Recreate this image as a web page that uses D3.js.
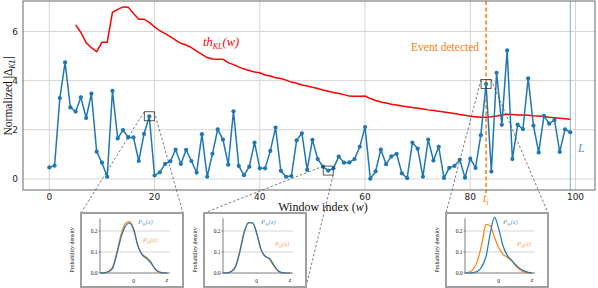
<!DOCTYPE html>
<meta charset="utf-8">
<script src="https://cdn.jsdelivr.net/npm/d3@7"></script>
<style>
  body { margin: 0; background: #fff; }
</style>
<body>
<script>

// normalized KL divergence per window (w = 0..99)
var deltaKL = [0.47, 0.54, 3.29, 4.74, 2.91, 2.74, 3.32, 2.48, 3.47, 1.11,
               0.66, 0.09, 3.58, 1.65, 1.99, 1.69, 1.69, 0.73, 1.83, 2.55,
               0.14, 0.27, 0.61, 0.72, 1.19, 0.61, 1.18, 0.73, 0.26, 1.82,
               0.09, 1.02, 2.02, 1.60, 0.58, 2.75, 0.53, 0.15, 0.50, 1.48,
               0.43, 0.43, 1.14, 2.09, 0.33, 0.09, 0.12, 1.57, 1.86, 0.37,
               1.59, 0.81, 0.50, 0.34, 0.43, 0.91, 0.66, 0.67, 0.81, 1.31,
               2.11, 0.01, 0.31, 1.19, 0.60, 0.92, 1.02, 0.23, 0.03, 1.48,
               1.23, 0.09, 1.60, 0.75, 1.31, 0.04, 0.45, 0.53, 0.78, 0.05,
               0.83, 0.45, 1.78, 3.86, 0.30, 4.32, 2.20, 5.23, 0.81, 2.21,
               2.03, 4.09, 2.17, 1.08, 2.57, 2.25, 2.40, 1.10, 2.02, 1.90]

// threshold th_KL(w), starts at w = 5
var thStart = 5
var thKL = [6.27, 5.96, 5.54, 5.34, 5.18, 5.56, 5.56, 6.78, 6.90, 7.00,
            6.99, 6.73, 6.50, 6.50, 6.37, 6.19, 6.03, 5.91, 5.79, 5.65,
            5.52, 5.45, 5.34, 5.20, 5.07, 4.94, 4.88, 4.87, 4.87, 4.73,
            4.65, 4.56, 4.47, 4.41, 4.35, 4.32, 4.23, 4.19, 4.12, 4.09,
            4.02, 3.94, 3.89, 3.82, 3.78, 3.73, 3.68, 3.62, 3.57, 3.52,
            3.48, 3.43, 3.37, 3.36, 3.36, 3.37, 3.27, 3.19, 3.13, 3.09,
            3.04, 3.01, 2.97, 2.94, 2.91, 2.88, 2.85, 2.81, 2.78, 2.75,
            2.72, 2.69, 2.66, 2.62, 2.59, 2.55, 2.53, 2.51, 2.51, 2.53,
            2.56, 2.60, 2.63, 2.62, 2.60, 2.60, 2.59, 2.57, 2.56, 2.54,
            2.51, 2.49, 2.47, 2.45, 2.43]

var xTicks = [0, 20, 40, 60, 80, 100]
var yTicks = [0, 2, 4, 6]
var eventW = 83
var lastW = 99
var zoomWindows = [19, 53, 83]

// densities in the insets
var zGrid = [-4, -3.5, -3, -2.5, -2, -1.5, -1, -0.5, 0, 0.5, 1, 1.5, 2, 2.5, 3, 3.5, 4]
var inset1W = [0, 0.001, 0.006, 0.022, 0.090, 0.170, 0.222, 0.238, 0.205, 0.128, 0.086, 0.070, 0.050, 0.022, 0.006, 0.001, 0]
var inset1H = [0, 0.001, 0.008, 0.030, 0.100, 0.185, 0.235, 0.245, 0.210, 0.130, 0.090, 0.075, 0.055, 0.020, 0.003, 0, 0]
var inset2W = [0, 0.001, 0.007, 0.030, 0.100, 0.190, 0.238, 0.240, 0.190, 0.115, 0.080, 0.070, 0.040, 0.012, 0.002, 0, 0]
var inset2H = [0, 0.001, 0.009, 0.035, 0.108, 0.196, 0.240, 0.238, 0.185, 0.110, 0.079, 0.066, 0.035, 0.010, 0.001, 0, 0]
var inset3W = [0, 0, 0.002, 0.008, 0.030, 0.080, 0.190, 0.265, 0.210, 0.130, 0.085, 0.062, 0.040, 0.022, 0.010, 0.003, 0]
var inset3H = [0, 0.004, 0.020, 0.060, 0.140, 0.232, 0.225, 0.170, 0.120, 0.090, 0.075, 0.060, 0.035, 0.015, 0.004, 0.001, 0]
var densTicks = [0.0, 0.1, 0.2]

var blue = "#1f77b4", orange = "#ff7f0e"
var sans = "DejaVu Sans, sans-serif"
var serif = "Liberation Serif, DejaVu Serif, serif"

var svg = d3.select("body").append("svg")
            .attr("width", 598).attr("height", 288)

var plotL = 23, plotR = 595, plotT = 1, plotB = 190
var x = d3.scaleLinear().domain([-5, 103.7]).range([plotL, plotR])
var y = d3.scaleLinear().domain([-0.45, 7.24]).range([plotB, plotT])

// grid
svg.append("g").selectAll("line").data(xTicks).join("line")
   .attr("x1", d => x(d)).attr("x2", d => x(d)).attr("y1", plotT).attr("y2", plotB)
   .attr("stroke", "#d5d5d5").attr("stroke-width", 1)
svg.append("g").selectAll("line").data(yTicks).join("line")
   .attr("x1", plotL).attr("x2", plotR).attr("y1", d => y(d)).attr("y2", d => y(d))
   .attr("stroke", "#d5d5d5").attr("stroke-width", 1)

// tick labels
svg.append("g").selectAll("text").data(xTicks).join("text")
   .attr("x", d => x(d)).attr("y", 199.5).attr("text-anchor", "middle")
   .style("font-family", sans).style("font-size", "9px").attr("fill", "#222").text(d => d)
svg.append("g").selectAll("text").data(yTicks).join("text")
   .attr("x", 18).attr("y", d => y(d) + 3.2).attr("text-anchor", "end")
   .style("font-family", sans).style("font-size", "9px").attr("fill", "#222").text(d => d)

// event line and last window
svg.append("line").attr("x1", x(eventW)).attr("x2", x(eventW)).attr("y1", plotT).attr("y2", plotB + 3)
   .attr("stroke", orange).attr("stroke-width", 1.5).attr("stroke-dasharray", "4 2.5")
svg.append("line").attr("x1", x(lastW)).attr("x2", x(lastW)).attr("y1", plotT).attr("y2", plotB)
   .attr("stroke", blue).attr("stroke-opacity", 0.6).attr("stroke-width", 1)

// threshold
var thLine = d3.line().x((d, i) => x(i + thStart)).y(d => y(d))
svg.append("path").attr("d", thLine(thKL)).attr("fill", "none")
   .attr("stroke", "#f00").attr("stroke-width", 1.5)

// KL series
var klLine = d3.line().x((d, i) => x(i)).y(d => y(d))
svg.append("path").attr("d", klLine(deltaKL)).attr("fill", "none")
   .attr("stroke", blue).attr("stroke-width", 1.5)
svg.append("g").selectAll("circle").data(deltaKL).join("circle")
   .attr("cx", (d, i) => x(i)).attr("cy", d => y(d)).attr("r", 2.1).attr("fill", blue)

// frame
svg.append("rect").attr("x", plotL).attr("y", plotT).attr("width", plotR - plotL).attr("height", plotB - plotT)
   .attr("fill", "none").attr("stroke", "#666").attr("stroke-width", 1)

// labels
svg.append("text").attr("x", x(eventW) - 7).attr("y", 51)
   .attr("text-anchor", "end").attr("fill", orange).style("font-family", serif).style("font-size", "11.5px").text("Event detected")
var th = svg.append("text").attr("x", 203).attr("y", 46)
   .attr("fill", "#f00").style("font-family", serif).style("font-size", "12.5px").style("font-style", "italic")
th.append("tspan").text("th")
th.append("tspan").attr("baseline-shift", "-3").style("font-size", "8px").text("KL")
th.append("tspan").attr("baseline-shift", "0").style("font-size", "12.5px").text("(w)")
svg.append("text").attr("x", 578).attr("y", 152)
   .attr("fill", blue).attr("fill-opacity", 0.8).style("font-family", serif).style("font-size", "12px").style("font-style", "italic").text("L")
var ti = svg.append("text").attr("x", x(eventW) - 3).attr("y", 202)
   .attr("fill", orange).style("font-family", serif).style("font-size", "12px").style("font-style", "italic")
ti.append("tspan").text("t")
ti.append("tspan").attr("baseline-shift", "-3").style("font-size", "8px").text("i")

var xl = svg.append("text").attr("x", 323).attr("y", 211)
   .attr("text-anchor", "middle").attr("fill", "#111").style("font-family", serif).style("font-size", "12px")
xl.append("tspan").text("Window index (")
xl.append("tspan").style("font-style", "italic").text("w")
xl.append("tspan").text(")")

var yl = svg.append("text").attr("transform", "translate(12,96) rotate(-90)")
   .attr("text-anchor", "middle").attr("fill", "#111").style("font-family", serif).style("font-size", "11.5px")
yl.append("tspan").text("Normalized |Δ")
yl.append("tspan").attr("baseline-shift", "-3").style("font-size", "8px").style("font-style", "italic").text("KL")
yl.append("tspan").attr("baseline-shift", "0").style("font-size", "11.5px").text("|")

// insets
var insetFrames = [81, 204, 446]
var insetData = [[inset1W, inset1H], [inset2W, inset2H], [inset3W, inset3H]]
var frameTop = 213, frameBottom = 287, frameW = 102

zoomWindows.forEach(function(w, k) {
  var fx = insetFrames[k]
  var cx = x(w), cy = y(deltaKL[w])
  var bx0 = cx - 5, bx1 = cx + 5, by0 = cy - 4.5, by1 = cy + 4.5

  // connectors
  var conn = k == 1 ? [[bx0, by0, fx, frameTop], [bx1, by1, fx + frameW, frameBottom]]
                    : [[bx0, by0, fx, frameTop], [bx1, by0, fx + frameW, frameTop]]
  conn.forEach(function(c) {
    svg.append("line").attr("x1", c[0]).attr("y1", c[1]).attr("x2", c[2]).attr("y2", c[3])
       .attr("stroke", "#444").attr("stroke-width", 0.7).attr("stroke-dasharray", "2.5 2")
  })
  svg.append("rect").attr("x", bx0).attr("y", by0).attr("width", bx1 - bx0).attr("height", by1 - by0)
     .attr("fill", "none").attr("stroke", "#333").attr("stroke-width", 0.8)

  var g = svg.append("g")
  g.append("rect").attr("x", fx).attr("y", frameTop).attr("width", frameW).attr("height", frameBottom - frameTop)
   .attr("fill", "#fff").attr("stroke", "#a0a0a0").attr("stroke-width", 2)

  var ix = d3.scaleLinear().domain([-4, 4.3]).range([fx + 19, fx + 89])
  var iy = d3.scaleLinear().domain([0, 0.26]).range([273, 218.4])

  g.selectAll(".grid").data(densTicks.slice(1)).join("line")
   .attr("x1", fx + 19).attr("x2", fx + 89).attr("y1", d => iy(d)).attr("y2", d => iy(d))
   .attr("stroke", "#bbb").attr("stroke-width", 0.6)
  g.append("line").attr("x1", fx + 19).attr("x2", fx + 19).attr("y1", iy(0.26)).attr("y2", iy(0))
   .attr("stroke", "#222").attr("stroke-width", 0.6)
  g.append("line").attr("x1", fx + 19).attr("x2", fx + 89).attr("y1", iy(0)).attr("y2", iy(0))
   .attr("stroke", "#222").attr("stroke-width", 0.6)
  g.selectAll(".yt").data(densTicks).join("text")
   .attr("x", fx + 16.5).attr("y", d => iy(d) + 2)
   .attr("text-anchor", "end").style("font-family", serif).style("font-size", "5.5px").attr("fill", "#222").text(d => d.toFixed(1))
  g.selectAll(".ytk").data(densTicks).join("line")
   .attr("x1", fx + 17.5).attr("x2", fx + 19).attr("y1", d => iy(d)).attr("y2", d => iy(d))
   .attr("stroke", "#222").attr("stroke-width", 0.5)
  g.append("text").attr("x", ix(0)).attr("y", 283)
   .attr("text-anchor", "middle").style("font-family", serif).style("font-size", "5.5px").attr("fill", "#222").text("0")
  g.append("text").attr("x", fx + 86).attr("y", 282)
   .attr("text-anchor", "middle").style("font-family", serif).style("font-size", "6px").style("font-style", "italic").attr("fill", "#222").text("z")
  g.append("text").attr("transform", "translate(" + (fx - 7) + ",250) rotate(-90)")
   .attr("text-anchor", "middle").style("font-family", serif).style("font-size", "6px").attr("fill", "#222").text("Probability density")

  var dens = d3.line().x((d, i) => ix(zGrid[i])).y(d => iy(d)).curve(d3.curveMonotoneX)
  g.append("path").attr("d", dens(insetData[k][1])).attr("fill", "none").attr("stroke", orange).attr("stroke-width", 1.2)
  g.append("path").attr("d", dens(insetData[k][0])).attr("fill", "none").attr("stroke", blue).attr("stroke-width", 1.2)

  var lw = g.append("text").attr("x", fx + 57).attr("y", 224)
   .attr("fill", blue).attr("fill-opacity", 0.8).style("font-family", serif).style("font-size", "6.5px").style("font-style", "italic")
  lw.append("tspan").text("P")
  lw.append("tspan").attr("baseline-shift", "-1.5").style("font-size", "4.5px").text("W")
  lw.append("tspan").attr("baseline-shift", "0").style("font-size", "6.5px").text("(z)")
  var lh = g.append("text").attr("x", fx + (k == 0 ? 62 : 71)).attr("y", k == 0 ? 242 : 246)
   .attr("fill", orange).attr("fill-opacity", 0.8).style("font-family", serif).style("font-size", "6.5px").style("font-style", "italic")
  lh.append("tspan").text("P")
  lh.append("tspan").attr("baseline-shift", "-1.5").style("font-size", "4.5px").text("H")
  lh.append("tspan").attr("baseline-shift", "0").style("font-size", "6.5px").text("(z)")
})

</script>
</body>
